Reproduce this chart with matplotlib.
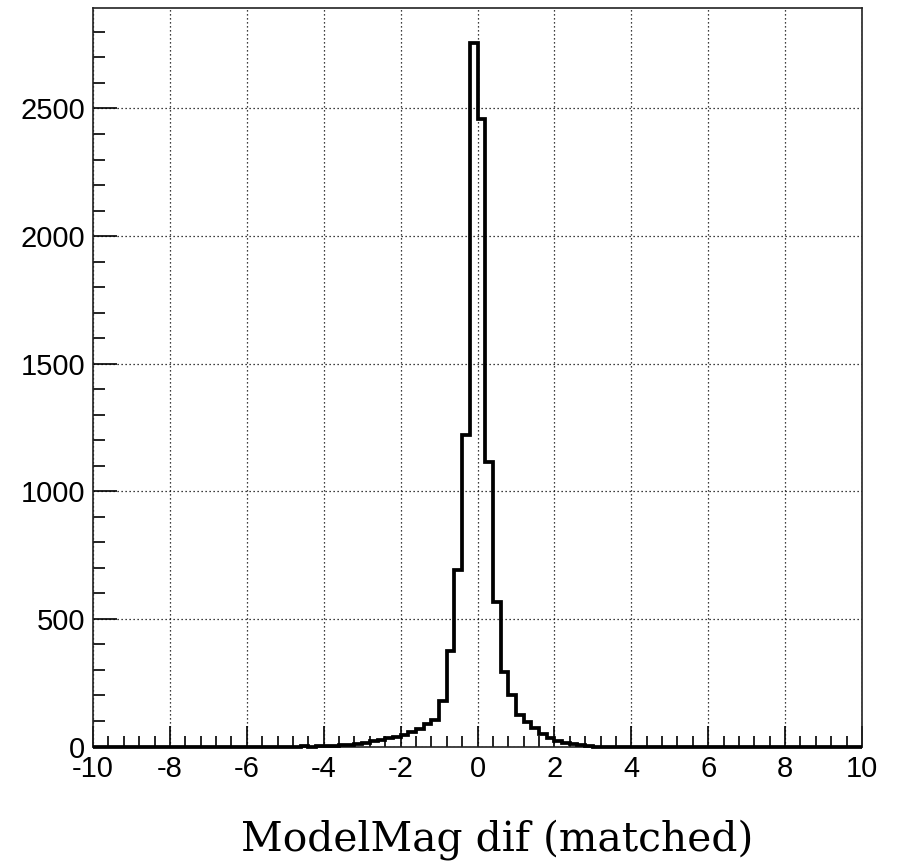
import numpy as np
import matplotlib
matplotlib.use("Agg")
import matplotlib.pyplot as plt
from matplotlib.ticker import MultipleLocator

# histogram: 100 bins of width 0.2 from -10 to 10
x_min, x_max, bin_width = -10.0, 10.0, 0.2
# non-zero counts from -4.6 to 3.0 (bins of 0.2)
tail_start = -4.6
counts_core = [
    3, 0, 2, 3, 3, 5, 5, 8, 14, 20,        # -4.6 .. -2.6
    25, 32, 38, 46, 58, 70, 88, 105, 180, 375,  # -2.6 .. -0.6
    692, 1222, 2756, 2458, 1114, 565, 290, 200, 123, 97,  # -0.6 .. 1.4
    71, 50, 32, 22, 14, 8, 6, 2,            # 1.4 .. 3.0
]
x_label = "ModelMag dif (matched)"
x_ticks = [-10, -8, -6, -4, -2, 0, 2, 4, 6, 8, 10]
y_ticks = [0, 500, 1000, 1500, 2000, 2500]

edges = np.round(np.arange(x_min, x_max + bin_width / 2, bin_width), 6)
values = np.zeros(len(edges) - 1)
start = int(round((tail_start - x_min) / bin_width))
values[start:start + len(counts_core)] = counts_core

plt.rcParams['font.family'] = ['Liberation Sans', 'DejaVu Sans']
fig = plt.figure(figsize=(8.99, 8.63), dpi=100)
ax = fig.add_axes([93 / 899, 1 - 746.5 / 863, (862 - 93) / 899, (746.5 - 8) / 863])

ax.stairs(values, edges, color='black', linewidth=2.7, baseline=None, zorder=3,
          clip_on=False)

ax.set_xlim(x_min, x_max)
ax.set_ylim(0, max(values) * 1.05)

ax.set_xticks(x_ticks)
ax.set_xticklabels([str(t) for t in x_ticks])
ax.set_yticks(y_ticks)
ax.set_yticklabels([str(t) for t in y_ticks])
ax.xaxis.set_minor_locator(MultipleLocator(0.4))
ax.yaxis.set_minor_locator(MultipleLocator(100))

ax.tick_params(axis='both', which='both', direction='in', top=False, right=False,
               labelsize=21, colors='black', width=1.2)
ax.tick_params(axis='x', which='major', length=15, pad=6)
ax.tick_params(axis='x', which='minor', length=8)
ax.tick_params(axis='y', which='major', length=17, pad=5.5)
ax.tick_params(axis='y', which='minor', length=8.5)

ax.grid(True, which='major', color='black', linestyle=(0, (1, 2.2)), linewidth=0.9)
for s in ax.spines.values():
    s.set_linewidth(1.2)
    s.set_color('#222222')

fig.text(241 / 899, 1 - 850 / 863, x_label, family='DejaVu Serif', fontsize=29.3,
         ha='left', va='baseline')

fig.savefig("out.png", dpi=100, facecolor='white')
